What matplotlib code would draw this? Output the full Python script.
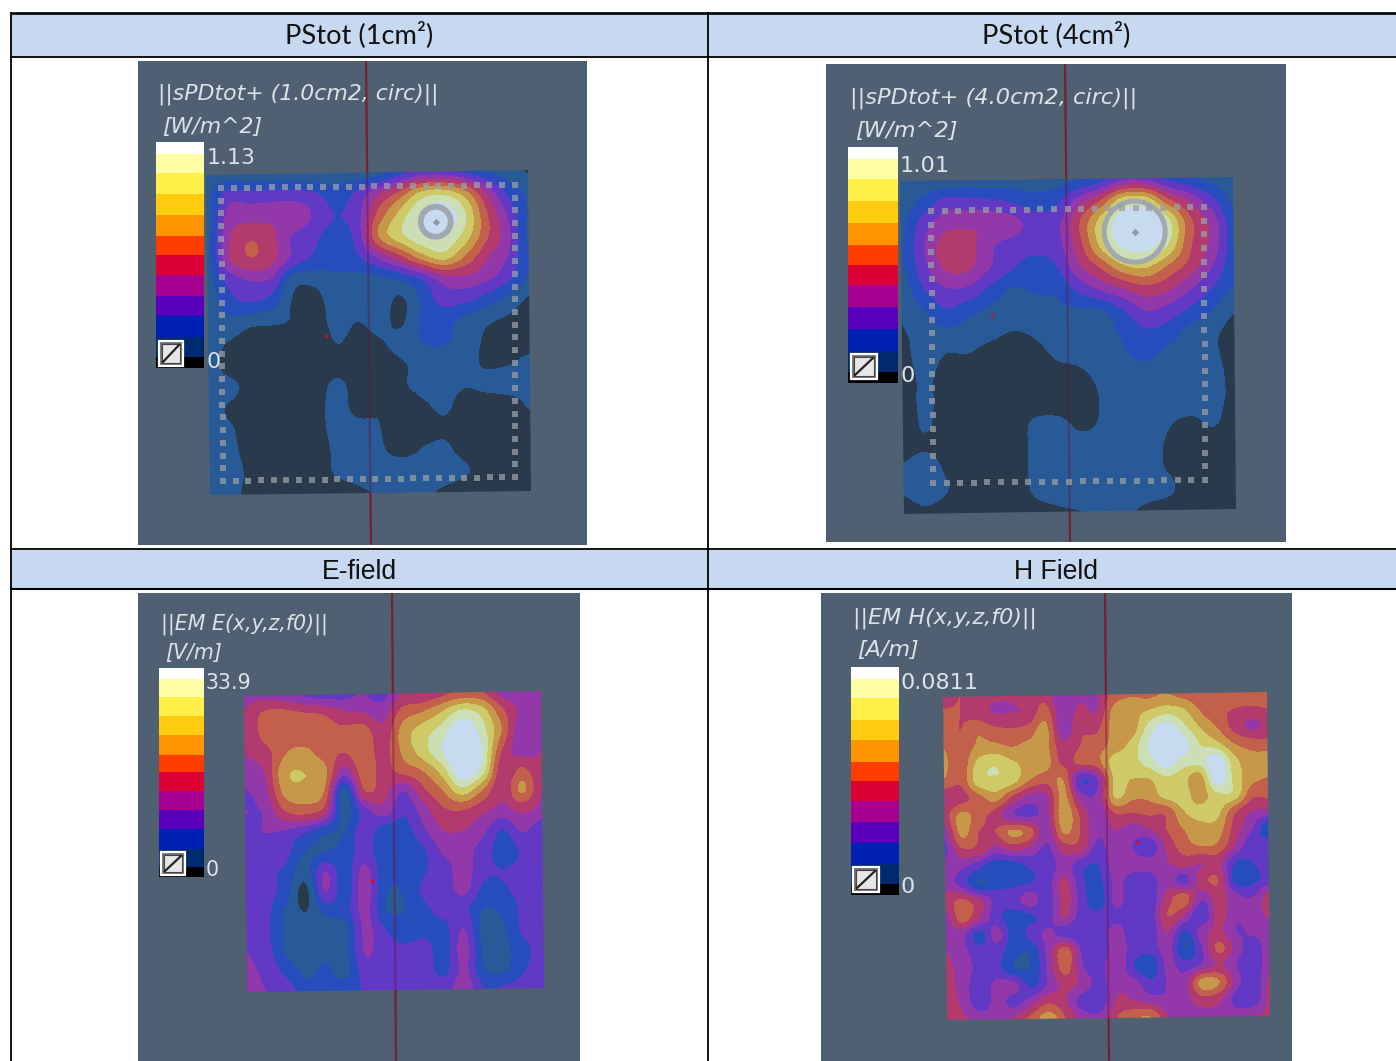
import numpy as np
import matplotlib
matplotlib.use("Agg")
import matplotlib.pyplot as plt
from matplotlib.patches import Rectangle, Circle, Polygon
from matplotlib.colors import ListedColormap, BoundaryNorm
from matplotlib.transforms import Affine2D

W, H = 1396, 1061

headers = ["PStot (1cm²)", "PStot (4cm²)", "E-field", "H Field"]
titles = ["||sPDtot+ (1.0cm2, circ)||", "||sPDtot+ (4.0cm2, circ)||", "||EM E(x,y,z,f0)||", "||EM H(x,y,z,f0)||"]
units = ["[W/m^2]", "[W/m^2]", "[V/m]", "[A/m]"]
max_labels = ["1.13", "1.01", "33.9", "0.0811"]
min_label = "0"

cbar_colors = ["#ffffff", "#ffffa8", "#fff04a", "#ffcc10", "#ff9300", "#ff3d00",
               "#dd0035", "#a80090", "#5a00bb", "#0020b4", "#002a70", "#000000"]
cbar_shares = [35, 58, 64, 62, 63, 58, 59, 63, 63, 63, 59, 33]

level_bounds = [-5, 1, 2, 3, 4, 5, 6, 7, 8, 9, 10, 30]
level_colors = ["#283a4c", "#275a96", "#274dbd", "#6239c4", "#9338a8", "#b33a6c",
                "#c2604c", "#c8984a", "#cfca68", "#cbdeb4", "#c6daf0"]

field_1cm = [
 [1.5,1.4,1.3,1.3,1.3,1.2,1.4,1.5,1.6,2.6,3.4,3.4,2.8,2.0,1.5,0.9],
 [1.6,3.5,3.5,3.5,3.5,3.2,2.5,3.2,4.8,6.3,8.2,8.6,7.4,5.0,2.8,1.8],
 [1.5,4.3,4.6,4.7,4.8,3.9,3.0,3.6,6.3,8.3,10.0,10.8,9.2,6.2,3.9,1.9],
 [1.6,4.8,5.9,5.3,3.9,3.2,2.6,3.4,7.0,8.7,9.8,10.0,8.7,6.3,4.4,1.8],
 [1.6,4.8,5.9,5.3,3.7,2.8,2.4,2.8,4.2,5.7,7.5,8.5,7.0,5.2,4.0,2.0],
 [1.5,3.3,4.0,3.8,1.5,1.3,1.8,1.7,1.8,2.2,3.2,4.6,4.8,4.3,3.3,1.9],
 [1.4,2.6,3.0,2.5,0.9,0.7,1.5,1.6,1.6,0.85,2.2,3.4,3.3,2.6,1.8,0.9],
 [1.2,1.6,1.2,1.1,0.9,0.6,1.3,1.0,1.3,0.85,2.2,2.4,1.7,1.2,0.85,0.5],
 [1.3,0.9,0.5,0.5,0.3,0.4,1.0,0.7,0.9,1.4,2.0,2.1,1.5,0.85,0.7,0.7],
 [1.2,0.8,0.4,0.3,0.3,0.4,0.7,0.5,0.5,0.9,1.3,1.3,1.2,0.9,0.95,1.15],
 [1.2,1.2,0.7,0.4,0.3,0.6,1.2,0.6,0.5,0.9,1.2,1.2,1.05,1.2,1.3,1.2],
 [1.2,0.9,0.4,0.3,0.3,0.7,1.3,0.7,0.9,0.6,0.9,1.1,0.7,0.6,0.7,1.1],
 [1.2,1.1,0.5,0.3,0.3,0.7,1.3,1.3,1.0,0.5,0.7,0.9,0.5,0.4,0.5,0.7],
 [1.2,1.2,0.6,0.3,0.3,0.6,1.2,1.4,1.1,0.7,1.05,1.1,0.7,0.4,0.6,0.8],
 [1.3,1.4,0.7,0.4,0.4,0.7,1.1,1.3,1.4,1.5,1.4,1.3,1.05,0.7,0.8,1.0],
 [1.1,1.2,0.7,0.5,0.5,0.5,0.7,0.9,1.1,1.2,1.1,0.9,0.7,0.5,0.5,0.5],
]
field_4cm = [
 [1.1,1.3,1.3,1.4,1.4,1.5,1.5,1.6,1.9,2.5,3.6,3.6,2.7,2.1,1.6,1.3],
 [1.5,2.3,3.4,3.4,3.2,2.9,2.4,2.7,4.4,6.0,8.5,8.6,6.2,4.7,3.2,1.7],
 [1.7,3.5,4.6,4.8,4.8,4.4,3.6,3.7,5.9,8.5,11.0,11.6,9.4,6.3,4.6,2.3],
 [1.9,3.9,5.5,5.4,4.2,3.6,3.4,3.6,5.6,8.3,10.4,10.7,9.1,6.2,4.7,2.4],
 [1.8,3.6,5.1,5.1,4.0,3.1,2.5,3.0,4.8,6.2,7.8,8.2,6.9,5.6,4.0,2.3],
 [1.4,2.9,3.8,3.7,2.7,1.9,2.1,2.2,3.3,4.2,5.0,5.7,5.2,4.1,3.0,1.9],
 [1.1,1.9,2.8,2.2,1.7,1.6,1.6,1.8,1.8,1.9,3.0,4.0,3.6,2.8,2.0,1.1],
 [0.9,1.4,1.6,1.5,1.2,0.9,1.1,1.4,1.5,1.6,2.2,2.8,2.5,1.6,1.2,0.6],
 [0.7,1.4,0.9,0.9,0.5,0.4,0.7,1.1,1.2,1.4,1.9,2.2,1.7,1.4,1.1,0.8],
 [0.5,1.2,0.5,0.4,0.3,0.3,0.4,0.6,0.8,1.2,1.4,1.5,1.4,1.3,1.2,0.8],
 [0.5,1.2,0.5,0.3,0.3,0.3,0.4,0.5,0.4,1.1,1.3,1.3,1.3,1.3,1.2,0.8],
 [0.5,1.1,0.5,0.3,0.3,0.5,1.2,1.2,0.8,1.1,1.3,1.3,1.05,0.9,1.1,0.5],
 [0.7,0.9,0.5,0.3,0.3,0.5,1.3,1.4,1.3,1.3,1.3,1.2,0.9,0.5,0.6,0.4],
 [1.1,1.5,0.8,0.3,0.3,0.5,1.3,1.4,1.4,1.4,1.3,1.2,0.9,0.5,0.4,0.3],
 [1.1,1.5,1.0,0.3,0.3,0.5,1.2,1.4,1.4,1.4,1.3,1.2,1.1,0.5,0.4,0.3],
 [0.5,0.8,0.4,0.3,0.3,0.4,0.7,0.9,1.0,1.1,1.05,0.9,0.7,0.4,0.3,0.3],
]
field_e = [
 [4.6,4.7,4.4,3.8,3.5,3.6,4.0,3.6,5.0,5.0,5.6,6.2,6.0,4.6,4.2,4.1],
 [5.1,6.2,6.4,6.1,5.9,5.2,5.0,4.6,6.4,7.0,8.0,9.2,8.5,6.3,4.8,5.0],
 [5.0,6.3,6.6,6.4,6.4,6.3,6.6,5.3,7.4,8.5,9.5,11.0,9.5,7.0,4.2,4.7],
 [5.0,5.5,6.9,7.3,6.6,6.0,6.7,5.6,7.2,8.5,10.0,11.6,10.0,6.0,4.5,5.0],
 [4.6,5.0,7.7,8.0,7.4,4.4,6.5,5.7,6.3,7.0,8.5,11.0,9.5,5.3,6.2,5.0],
 [3.9,4.6,7.2,7.6,6.9,1.7,5.8,5.4,4.0,5.7,7.0,8.6,7.0,5.2,7.2,5.0],
 [4.0,4.1,5.8,6.2,5.4,1.7,3.5,4.5,3.2,4.5,5.8,6.0,5.3,4.7,5.3,4.7],
 [3.6,4.0,3.8,3.1,2.2,2.0,3.6,2.4,2.5,3.8,5.0,5.0,4.3,3.0,4.2,3.4],
 [3.9,3.2,3.3,2.0,2.0,2.4,3.4,2.3,2.3,2.9,4.2,4.3,3.6,2.4,3.2,3.3],
 [3.9,3.2,2.8,1.5,4.0,2.4,4.3,2.3,2.3,2.9,3.5,4.5,3.3,3.0,3.2,3.2],
 [3.9,3.4,2.5,0.7,4.0,2.4,4.5,2.2,2.1,3.2,3.4,4.3,2.8,2.9,3.3,3.2],
 [3.8,3.3,1.9,1.0,2.2,2.5,4.3,2.1,2.0,2.8,3.3,3.3,2.0,2.3,3.2,3.2],
 [3.6,3.2,1.9,1.7,1.6,1.7,4.2,3.1,2.4,2.8,2.7,4.0,1.6,1.9,3.2,3.2],
 [4.0,3.5,1.9,1.7,1.7,1.8,4.1,3.3,3.2,3.3,2.6,4.4,1.8,1.7,2.8,3.2],
 [4.1,3.8,2.7,1.8,2.2,1.7,3.6,3.3,3.2,3.4,2.7,4.2,2.0,1.8,2.9,3.2],
 [4.0,4.0,3.6,2.4,2.4,2.5,3.1,3.2,3.3,3.4,3.5,4.6,3.0,3.1,3.3,3.2],
]
field_h = [
 [5.3,6.0,5.2,5.1,5.1,5.6,5.6,4.0,4.7,4.8,6.4,6.9,6.7,7.0,6.6,6.3,6.3,6.6,6.7,6.7],
 [6.3,6.0,5.5,5.0,5.0,5.2,6.5,4.2,5.3,5.0,7.3,7.6,8.0,8.5,8.2,7.0,6.2,6.0,5.8,6.0],
 [6.8,6.0,6.8,6.3,6.1,6.4,7.3,4.4,5.8,5.8,7.4,7.4,9.3,10.6,9.4,8.0,7.0,5.7,4.8,5.2],
 [7.0,6.2,7.2,7.3,7.0,7.3,7.3,5.3,6.0,6.5,7.4,8.3,10.0,11.2,10.6,9.0,8.3,7.0,6.5,6.3],
 [7.3,6.3,8.3,8.9,8.2,7.7,7.4,5.8,6.2,6.6,8.5,8.6,9.5,10.7,9.6,9.5,10.8,8.4,7.4,7.5],
 [6.8,6.2,8.5,8.8,8.4,7.0,6.3,7.0,3.2,4.0,8.2,8.0,8.0,8.8,8.4,7.5,10.8,8.7,7.4,7.0],
 [5.0,5.6,6.5,7.4,5.8,4.6,4.8,7.3,4.5,4.3,8.1,7.3,7.3,8.4,8.5,7.5,8.8,8.7,6.4,6.3],
 [5.5,7.3,6.5,5.5,4.1,3.8,4.6,7.6,5.8,4.2,6.0,6.0,6.2,6.2,7.9,8.3,8.3,6.2,5.0,4.8],
 [4.4,7.3,6.0,6.0,7.2,6.5,4.4,7.2,5.9,4.3,5.0,4.5,4.9,6.0,7.0,7.6,7.5,5.6,4.1,2.2],
 [3.7,5.8,5.7,4.6,5.3,4.8,3.8,5.5,5.5,3.6,4.8,4.0,3.3,5.2,6.5,7.0,6.8,5.0,3.2,3.6],
 [4.4,4.2,3.3,2.3,2.4,3.2,3.3,4.5,3.3,3.0,4.6,4.4,4.4,4.9,5.4,5.0,5.3,3.0,3.0,3.6],
 [4.5,3.6,2.0,2.6,2.8,3.0,3.5,5.3,3.2,2.8,4.2,3.5,3.5,4.6,3.6,5.5,6.0,2.6,2.7,3.5],
 [5.4,6.2,5.2,3.6,3.6,4.6,3.4,5.4,3.5,2.4,4.3,3.3,3.3,5.4,6.5,4.4,5.5,4.3,4.0,5.5],
 [4.6,6.5,5.0,3.4,2.4,2.8,3.5,5.1,3.4,3.3,3.8,3.6,3.4,6.0,5.1,3.0,5.5,4.2,4.5,5.2],
 [4.5,4.3,2.6,4.4,2.5,3.4,4.2,3.5,3.3,3.6,4.3,3.5,3.4,5.0,2.8,4.5,5.2,4.0,4.2,4.5],
 [5.0,4.3,3.4,3.5,2.3,2.2,4.4,6.5,3.8,3.3,4.5,3.6,3.3,4.5,2.0,4.0,6.3,4.5,3.6,4.5],
 [5.3,4.5,3.7,3.3,2.1,2.1,4.3,6.5,4.1,3.6,4.9,3.0,2.3,4.3,3.5,4.2,5.1,4.0,3.3,4.8],
 [5.4,4.5,3.3,4.4,4.3,2.8,4.2,5.3,4.7,3.6,4.7,4.4,3.3,4.1,4.6,7.5,7.0,4.5,3.3,5.3],
 [5.7,4.7,3.4,4.4,3.6,4.6,5.8,5.1,3.4,3.3,5.2,5.0,4.5,4.2,4.6,5.6,5.2,3.5,3.3,5.4],
 [6.0,5.2,4.6,4.7,5.2,6.4,7.6,6.0,4.6,4.3,6.0,6.8,7.0,5.0,4.8,4.6,4.7,4.5,4.9,5.2],
]
fields = [field_1cm, field_4cm, field_e, field_h]

layouts = [
 dict(box=(138,61,587,545), slab=((206,175),(528,170),(531,491),(210,495)),
      cbar=(156,142,204,368), icon=(159,341,183,366), line=((366,61),(371,545)),
      title=(158,94), unit=(162,127), maxl=(207,158.5), minl=(207,361.5), fs=15.8,
      dot=(326,336), frame=((221,188),(515,185),(515,477),(223,481)), counts=(23,23),
      ring=(435.7,221.7,15,4.2)),
 dict(box=(826,64,1286,542), slab=((900,181),(1233,177),(1236,509),(904,514)),
      cbar=(848,147,898,383), icon=(851,354,877,379), line=((1065,64),(1070,542)),
      title=(850,98.5), unit=(855,131.5), maxl=(900,165.5), minl=(900,375.5), fs=16.2,
      dot=(992,315), frame=((931,211),(1204,207),(1205,480),(933,483)), counts=(20,20),
      ring=(1134.7,231.7,30.5,3.6)),
 dict(box=(138,593,580,1061), slab=((244,696),(541,691),(544,988),(247,992)),
      cbar=(159,668,204,877), icon=(161,852,185,875), line=((392,593),(396,1061)),
      title=(161,624), unit=(165,653.5), maxl=(206,683), minl=(206,870), fs=14.8,
      dot=(372,881), frame=None, counts=None, ring=None),
 dict(box=(821,593,1292,1061), slab=((943,697),(1267,692),(1270,1016),(947,1020)),
      cbar=(851,667,899,895), icon=(853,867,879,892), line=((1105,593),(1109,1061)),
      title=(853,618.5), unit=(857,650.5), maxl=(901,683), minl=(901,887.5), fs=16.0,
      dot=(1137,842), frame=None, counts=None, ring=None),
]

BG = "#4f6073"
TXT = "#dde2e6"
cmap = ListedColormap(level_colors)
norm = BoundaryNorm(level_bounds, cmap.N)

fig = plt.figure(figsize=(W/100, H/100), dpi=100, facecolor="white")
base = fig.add_axes([0, 0, 1, 1])
base.set_xlim(0, W); base.set_ylim(H, 0); base.axis("off")

for (x0, y0, x1, y1) in [(11,13,708,57), (708,13,1396,57), (11,550,708,589), (708,550,1396,589)]:
    base.add_patch(Rectangle((x0,y0), x1-x0, y1-y0, fc="#c6d9f0", ec="none"))
for y, lw in [(12.5,1.9), (57,1.3), (549,1.3), (589,1.5)]:
    base.plot([10,W],[y,y], color="black", lw=lw, solid_capstyle="butt")
for x in [11, 708]:
    base.plot([x,x],[12,H], color="black", lw=1.3, solid_capstyle="butt")

base.text(359.5,35,headers[0],family="Lato",fontsize=19.6,ha="center",va="center",color="#111")
base.text(1056.5,35,headers[1],family="Lato",fontsize=19.6,ha="center",va="center",color="#111")
base.text(359.5,572,headers[2],family="Liberation Sans",fontsize=19.2,ha="center",va="center",color="#111")
base.text(1056.5,572,headers[3],family="Liberation Sans",fontsize=19.2,ha="center",va="center",color="#111")

for i, (L, field) in enumerate(zip(layouts, fields)):
    x0, y0, x1, y1 = L["box"]
    ax = fig.add_axes([x0/W, 1-y1/H, (x1-x0)/W, (y1-y0)/H])
    ax.set_facecolor(BG)
    ax.set_xticks([]); ax.set_yticks([])
    for s in ax.spines.values():
        s.set_visible(False)
    (lx0, ly0), (lx1, ly1) = L["line"]
    ax.plot([lx0,lx1],[ly0,ly1], color="#7d2b35", lw=1.5, zorder=1)
    Z = np.array(field, float)
    nr, nc = Z.shape
    tl, tr, br, bl = [np.array(c, float) for c in L["slab"]]
    mat = np.array([[tr[0]-tl[0], bl[0]-tl[0], tl[0]],
                    [tr[1]-tl[1], bl[1]-tl[1], tl[1]],
                    [0, 0, 1]])
    ex, ey = 0.5/(nc-1), 0.5/(nr-1)
    im = ax.imshow(Z, cmap=cmap, norm=norm, interpolation="catrom", interpolation_stage="data",
                   origin="upper", extent=(-ex, 1+ex, 1+ey, -ey), aspect="auto",
                   transform=Affine2D(mat) + ax.transData, zorder=2)
    im.set_clip_path(Polygon(L["slab"], closed=True, transform=ax.transData))
    ax.plot([lx0,lx1],[ly0,ly1], color="#6a1030", lw=1.5, alpha=0.4, zorder=3)
    if L["ring"]:
        cx, cy, r, lw = L["ring"]
        ax.add_patch(Circle((cx,cy), r, fc="none", ec="#a2a8b0", lw=lw, zorder=4))
        ax.scatter([cx],[cy], s=14, marker="D", color="#9298a2", linewidths=0, zorder=4)
    if L["frame"]:
        a, b, c, d = L["frame"]
        nx, ny = L["counts"]
        fx, fy = [], []
        for p, q, n in [(a,b,nx),(b,c,ny),(c,d,nx),(d,a,ny)]:
            fx += list(np.linspace(p[0], q[0], n, endpoint=False))
            fy += list(np.linspace(p[1], q[1], n, endpoint=False))
        ax.scatter(fx, fy, s=24, marker="s", color="#9a9fa6", alpha=0.75, linewidths=0, zorder=5)
    ax.scatter(*L["dot"], s=6, color="#d01020", linewidths=0, zorder=6)
    bx0, by0, bx1, by1 = L["cbar"]
    shares = np.array(cbar_shares, float); shares = shares/shares.sum()*(by1-by0)
    tops = by0 + np.concatenate([[0], np.cumsum(shares)[:-1]])
    ax.bar([bx0]*len(shares), shares, width=bx1-bx0, bottom=tops, align="edge",
           color=cbar_colors, linewidth=0, zorder=7)
    ix0, iy0, ix1, iy1 = L["icon"]
    ax.add_patch(Rectangle((ix0,iy0), ix1-ix0, iy1-iy0, fc="#6c6c6c", ec="white", lw=1.6, zorder=8))
    ax.add_patch(Rectangle((ix0+3,iy0+3), ix1-ix0-6, iy1-iy0-6, fc="#e6e6e6", ec="#444", lw=0.8, zorder=8))
    ax.plot([ix0+4,ix1-4],[iy1-4,iy0+4], color="#222", lw=1.6, zorder=9)
    fs = L["fs"]
    ax.text(*L["title"], titles[i], fontsize=fs, style="italic", color=TXT, va="center", ha="left", zorder=10)
    ax.text(*L["unit"], units[i], fontsize=fs, style="italic", color=TXT, va="center", ha="left", zorder=10)
    ax.text(*L["maxl"], max_labels[i], fontsize=fs, color=TXT, va="center", ha="left", zorder=10)
    ax.text(*L["minl"], min_label, fontsize=fs, color=TXT, va="center", ha="left", zorder=10)
    ax.set_xlim(x0, x1); ax.set_ylim(y1, y0)

fig.savefig("out.png", dpi=100)
